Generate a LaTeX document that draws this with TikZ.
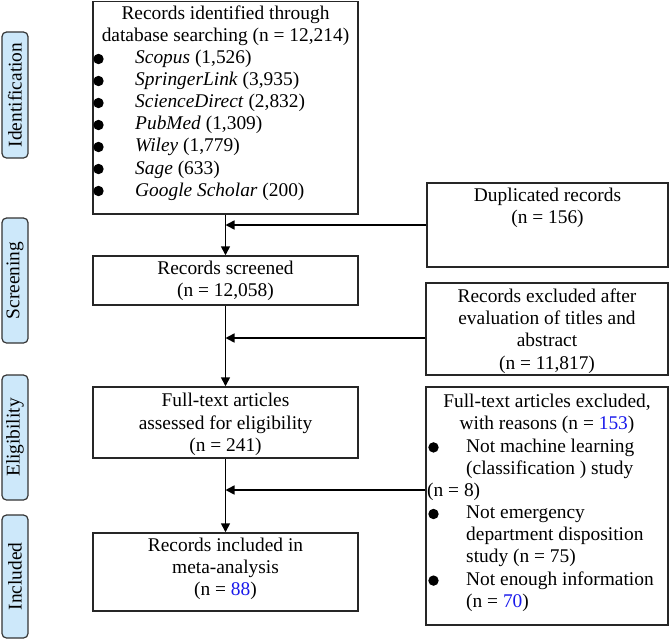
\documentclass[tikz,border=0pt]{standalone}
\usepackage{fontspec}
\setmainfont{Liberation Serif}
\usetikzlibrary{arrows.meta}
\definecolor{phasefill}{RGB}{205,232,250}
\definecolor{numblue}{RGB}{25,25,235}
\begin{document}
\begin{tikzpicture}[x=1pt,y=-1pt,
  font=\fontsize{19.4}{22.2}\selectfont,
  box/.style={draw=black!85, line width=1.5pt, inner sep=0pt},
  txt/.style={inner sep=0pt, align=center},
  ltxt/.style={inner sep=0pt, align=left, anchor=west},
  phase/.style={draw=black!80, fill=phasefill, rounded corners=4.5pt, line width=1.2pt, inner sep=0pt, rotate=90, minimum height=26},
  link/.style={line width=1.6pt},
  arr/.style={link, -{Triangle[length=9pt,width=9pt]}},
  dot/.style={fill=black}]
\useasboundingbox (0,0) rectangle (669,641);

% phase labels
\node[phase, minimum width=126] (pident) at (15,95) {Identification};
\node[phase, minimum width=125] (pscreen) at (15,280.5) {Screening};
\node[phase, minimum width=125] (pelig) at (15,437.5) {Eligibility};
\node[phase, minimum width=123] (pincl) at (15,576.5) {Included};

% left column boxes
\node[box, minimum width=265, minimum height=212.5] (ident) at (225.5,107.75) {};
\node[txt] (identtitle) at (225.5,26) {Records identified through\\database searching (n = 12,214)};
\node[ltxt] (identlist) at (135,125) {\textit{Scopus} (1,526)\\\textit{SpringerLink} (3,935)\\\textit{ScienceDirect} (2,832)\\\textit{PubMed} (1,309)\\\textit{Wiley} (1,779)\\\textit{Sage} (633)\\\textit{Google Scholar} (200)};
\foreach \y in {59,81,103,125,147,169,191}{\fill[dot] (98.5,\y) circle[radius=5.2pt];}

\node[box, minimum width=265, minimum height=49] (screened) at (225.5,280.5) {};
\node[txt] (screenedtxt) at (225.5,281) {Records screened\\(n = 12,058)};

\node[box, minimum width=265, minimum height=71] (fulltext) at (225.5,422.5) {};
\node[txt] (fulltexttxt) at (225.5,424.5) {Full-text articles\\assessed for eligibility\\(n = 241)};

\node[box, minimum width=265, minimum height=78] (included) at (225.5,572) {};
\node[txt] (includedtxt) at (225.5,569) {Records included in\\meta-analysis\\(n = \textcolor{numblue}{88})};

% right column boxes
\node[box, minimum width=241, minimum height=84] (dup) at (547.5,225) {};
\node[txt] (duptxt) at (547.5,208) {Duplicated records\\(n = 156)};

\node[box, minimum width=242, minimum height=92] (exclafter) at (547,329) {};
\node[txt] (exclaftertxt) at (547,331) {Records excluded after\\evaluation of titles and\\abstract\\(n = 11,817)};

\node[box, minimum width=242, minimum height=238] (ftexcl) at (547,506) {};
\node[txt] (ftexcltitle) at (547,414) {Full-text articles excluded,\\with reasons (n = \textcolor{numblue}{153})};
\node[ltxt] (item1) at (466,458.5) {Not machine learning\\(classification ) study};
\node[ltxt] (item1n) at (427,491.8) {(n = 8)};
\node[ltxt] (item2) at (466,536.2) {Not emergency\\department disposition\\study (n = 75)};
\node[ltxt] (item3) at (466,591.7) {Not enough information\\(n = \textcolor{numblue}{70})};
\foreach \y in {447.4,514,580.6}{\fill[dot] (433.5,\y) circle[radius=5.2pt];}

% connectors
\draw[arr] (ident.south) -- (screened.north);
\draw[arr] (screened.south) -- (fulltext.north);
\draw[arr] (fulltext.south) -- (included.north);

\coordinate (dupw) at (dup.west);
\coordinate (eaw) at ([yshift=-9pt]exclafter.west);
\coordinate (few) at ([yshift=16pt]ftexcl.west);
\draw[arr] (dupw) -- (dupw -| ident.south);
\draw[arr] (eaw) -- (eaw -| screened.south);
\draw[arr] (few) -- (few -| fulltext.south);
\end{tikzpicture}
\end{document}
